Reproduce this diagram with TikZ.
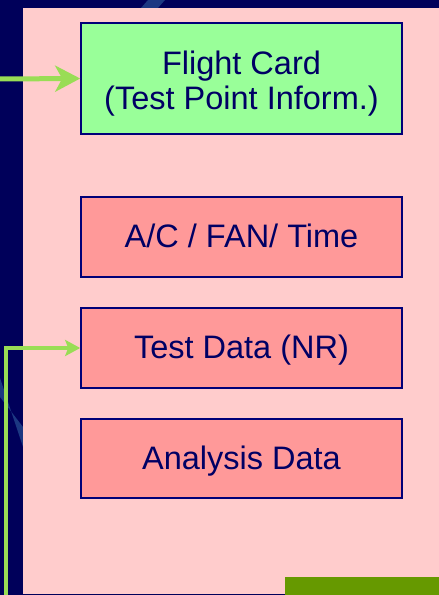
\documentclass[tikz,border=0pt]{standalone}
\usepackage{fontspec}
\setmainfont{Liberation Sans}
\usetikzlibrary{arrows.meta}
\definecolor{navybg}{RGB}{0,0,90}
\definecolor{panelpink}{RGB}{255,204,204}
\definecolor{boxpink}{RGB}{255,153,153}
\definecolor{boxgreen}{RGB}{153,255,153}
\definecolor{boxline}{RGB}{0,0,120}
\definecolor{txtnavy}{RGB}{0,0,100}
\definecolor{arrowgreen}{RGB}{153,221,85}
\definecolor{olivegreen}{RGB}{102,153,0}
\definecolor{stripeblue}{RGB}{35,70,140}
\tikzset{
  infobox/.style={draw=boxline, line width=1.6pt, minimum width=321pt, text=txtnavy,
    font=\fontsize{32.5}{35.5}\selectfont, align=center, inner sep=0pt},
  oneline/.style={text height=24pt, text depth=2pt},
  bigarrow/.style={draw=arrowgreen, line width=5pt, -{Stealth[length=25pt,width=26pt,inset=7pt]}},
  smallarrow/.style={draw=arrowgreen, line width=4pt, -{Stealth[length=15pt,width=16pt,inset=3pt]}}
}
\begin{document}
\begin{tikzpicture}[x=1pt,y=1pt]
\useasboundingbox (0,0) rectangle (439,595);
% background
\fill[navybg] (0,0) rectangle (439,595);
% faint decorative stripes
\fill[stripeblue, opacity=0.8] (148,595) -- (165,595) -- (158,587) -- (141,587) -- cycle;
\fill[stripeblue, opacity=0.8] (0,217) -- (0,198) -- (23,168) -- (23,148) -- cycle;
% panel
\fill[panelpink] (23,1) rectangle (439,587);
\fill[olivegreen] (285,0) rectangle (439,18);
% boxes
\node[infobox, fill=boxgreen, minimum height=111pt, text height=70pt, text depth=7pt] (card) at (241.5,516.5) {Flight Card\\(Test Point Inform.)};
\node[infobox, oneline, fill=boxpink, minimum height=80pt] (acfan) at (241.5,358) {A/C / FAN/ Time};
\node[infobox, oneline, fill=boxpink, minimum height=80pt] (testdata) at (241.5,247) {Test Data (NR)};
\node[infobox, oneline, fill=boxpink, minimum height=79pt] (analysis) at (241.5,136.5) {Analysis Data};
% connectors
\coordinate (inA) at (0,516);
\coordinate (inB) at (6,0);
\draw[bigarrow] (inA) -- (card.west);
\draw[smallarrow] (inB) |- (testdata.west);
\end{tikzpicture}
\end{document}
